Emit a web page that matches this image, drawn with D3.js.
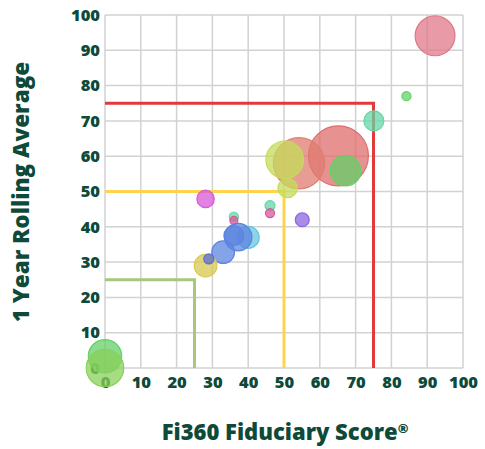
<!DOCTYPE html>
<html>
<head>
<meta charset="utf-8">
<script src="https://cdn.jsdelivr.net/npm/d3@7"></script>
<style>
  body { margin: 0; background: #fff; }
  text { font-family: "Open Sans", Lato, sans-serif; fill: #0e4a39; }
</style>
</head>
<body>
<div id="chart"></div>
<script>
// DATA
const scoreX = [92.2, 84.2, 75.1, 65.2, 67.2, 54.2, 50.2, 51, 28.1, 46.1, 46.1, 55.1, 36, 36, 40, 37.2, 36, 33, 28.1, 29, 0, 0];
const rollY  = [94.1, 77, 70, 60.1, 55.9, 58, 59, 51, 47.9, 46, 43.9, 42, 42.9, 41.8, 37, 37.1, 37.5, 32.8, 29, 30.9, 3.3, 0];
const sizes  = [44, 2.3, 11, 100, 26, 73, 39, 10.5, 8.4, 2.8, 2.3, 5.4, 2.3, 1.8, 13.4, 21, 11, 14.2, 14.2, 2.8, 31, 39];
const groups = ["rose", "green", "teal", "red", "green", "salmon", "lime", "lime", "magenta", "teal", "pink", "purple", "teal", "pink", "cyan", "blue", "blue", "blue", "khaki", "slate", "green", "lime2"];
const xTicks = [0, 10, 20, 30, 40, 50, 60, 70, 80, 90, 100];
const yTicks = [0, 10, 20, 30, 40, 50, 60, 70, 80, 90, 100];
const thresholds = [25, 50, 75];
const thresholdColors = ["#a9c77a", "#ffd34e", "#e03a3a"];

const fills = {
  rose: "#e07888", red: "#e06c6c", salmon: "#e07c70", green: "#64d068", teal: "#64d6a8",
  lime: "#c4dc58", lime2: "#88d058", magenta: "#d858d8", pink: "#d85898", purple: "#8c64e0",
  cyan: "#68c4e0", blue: "#5c84e0", khaki: "#d8c850", slate: "#5c6ed0"
};

const w = 485, h = 449;
const plotL = 105, plotT = 15, plotR = 463, plotB = 368;

const xScale = d3.scaleLinear().domain([0, 100]).range([plotL, plotR]);
const yScale = d3.scaleLinear().domain([0, 100]).range([plotB, plotT]);
const rScale = d3.scaleSqrt().domain([0, 100]).range([0, 30]);

const svg = d3.select("#chart").append("svg")
  .attr("width", w)
  .attr("height", h);

// GRID
svg.append("g")
  .selectAll("line")
  .data(xTicks)
  .enter().append("line")
  .attr("x1", d => xScale(d)).attr("x2", d => xScale(d))
  .attr("y1", plotT).attr("y2", plotB)
  .attr("stroke", "#d2d2d2").attr("stroke-width", 1.5);

svg.append("g")
  .selectAll("line")
  .data(yTicks)
  .enter().append("line")
  .attr("x1", plotL).attr("x2", plotR)
  .attr("y1", d => yScale(d)).attr("y2", d => yScale(d))
  .attr("stroke", "#d2d2d2").attr("stroke-width", 1.5);

// AXES (labels only)
const xAxis = d3.axisBottom(xScale).tickValues(xTicks).tickSize(0).tickPadding(8);
const yAxis = d3.axisLeft(yScale).tickValues(yTicks).tickSize(0).tickPadding(5);

svg.append("g")
  .attr("transform", "translate(0," + plotB + ")")
  .call(xAxis)
  .call(g => g.select(".domain").remove())
  .selectAll("text")
  .style("font-family", "'Open Sans', sans-serif")
  .style("font-size", "16.5px").style("font-weight", "800").style("fill", "#0e4a39");

svg.append("g")
  .attr("transform", "translate(" + plotL + ",0)")
  .call(yAxis)
  .call(g => g.select(".domain").remove())
  .selectAll("text")
  .style("font-family", "'Open Sans', sans-serif")
  .style("font-size", "16.5px").style("font-weight", "800").style("fill", "#0e4a39");

// THRESHOLD BOXES
svg.append("g")
  .selectAll("path")
  .data(thresholds)
  .enter().append("path")
  .attr("d", d => "M" + xScale(0) + "," + yScale(d) + "H" + xScale(d) + "V" + yScale(0))
  .attr("fill", "none")
  .attr("stroke", (d, i) => thresholdColors[i])
  .attr("stroke-width", 3);

// BUBBLES
svg.append("g")
  .selectAll("circle")
  .data(scoreX.map((x, i) => ({ x: x, y: rollY[i], s: sizes[i], g: groups[i] })))
  .enter().append("circle")
  .attr("cx", d => xScale(d.x))
  .attr("cy", d => yScale(d.y))
  .attr("r", d => rScale(d.s))
  .attr("fill", d => fills[d.g])
  .attr("fill-opacity", 0.75)
  .attr("stroke", d => fills[d.g])
  .attr("stroke-width", 1.2);

// AXIS TITLES
const xTitle = svg.append("text")
  .attr("x", 285)
  .attr("y", 440)
  .attr("text-anchor", "middle")
  .style("font-size", "22px").style("font-weight", "800");
xTitle.append("tspan").text("Fi360 Fiduciary Score");
xTitle.append("tspan").attr("dy", -7).style("font-size", "13px").text("®");

svg.append("text")
  .attr("transform", "translate(29,192) rotate(-90)")
  .attr("text-anchor", "middle")
  .style("font-size", "22.5px").style("font-weight", "800")
  .text("1 Year Rolling Average");
</script>
</body>
</html>
